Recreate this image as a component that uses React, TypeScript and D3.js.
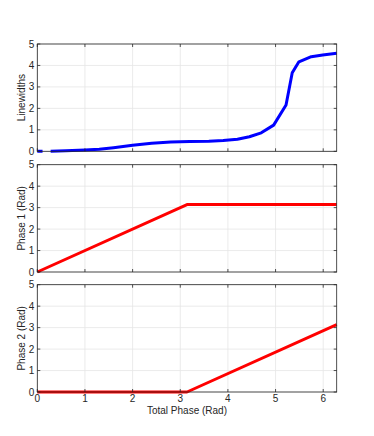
import React from "react";
import * as d3 from "d3";

const totalPhase = [0, Math.PI, 2 * Math.PI];
const phase1 = [0, Math.PI, Math.PI];
const phase2 = [0, 0, Math.PI];

const lwX = [0, 0.11, NaN, 0.28, 0.6, 1.0, 1.3, 1.6, 2.0, 2.4, 2.8, 3.2, 3.6, 3.9, 4.2, 4.45, 4.7, 4.96, 5.22, 5.35, 5.49, 5.75, 5.99, 2 * Math.PI];
const lwY = [0, 0, NaN, 0, 0.02, 0.06, 0.1, 0.17, 0.28, 0.37, 0.43, 0.46, 0.47, 0.5, 0.56, 0.68, 0.86, 1.22, 2.16, 3.66, 4.17, 4.41, 4.49, 4.57];

const xTicks = [0, 1, 2, 3, 4, 5, 6];
const yTicks = [0, 1, 2, 3, 4, 5];

const panels = [
  { label: "Linewidths", xs: lwX, ys: lwY, color: "#0000ff", top: 44, bottom: 151.3 },
  { label: "Phase 1 (Rad)", xs: totalPhase, ys: phase1, color: "#ff0000", top: 164.7, bottom: 272 },
  { label: "Phase 2 (Rad)", xs: totalPhase, ys: phase2, color: "#ff0000", top: 284.7, bottom: 392 },
];

const LEFT = 37.3;
const RIGHT = 336.7;
const FONT = "'Liberation Sans', Arial, sans-serif";
const AX = "#262626";

export default function App() {
  const x = d3.scaleLinear().domain([0, 2 * Math.PI]).range([LEFT, RIGHT]);
  return (
    <svg width={374} height={436} style={{ position: "absolute", left: 0, top: 0, background: "#fff" }}>
      <rect width={374} height={436} fill="#fff" />
      {panels.map((p, i) => {
        const y = d3.scaleLinear().domain([0, 5]).range([p.bottom, p.top]);
        const pts = p.xs.map((v, k) => [v, p.ys[k]] as [number, number]);
        const line = d3
          .line<[number, number]>()
          .defined((d) => !isNaN(d[0]) && !isNaN(d[1]))
          .x((d) => x(d[0]))
          .y((d) => y(d[1]));
        const isLast = i === panels.length - 1;
        return (
          <g key={i}>
            {xTicks.map((t) => (
              <line key={"gx" + t} x1={x(t)} x2={x(t)} y1={p.top} y2={p.bottom} stroke="#e6e6e6" strokeWidth={0.8} />
            ))}
            {yTicks.map((t) => (
              <line key={"gy" + t} x1={LEFT} x2={RIGHT} y1={y(t)} y2={y(t)} stroke="#e6e6e6" strokeWidth={0.8} />
            ))}
            <path d={line(pts) || ""} fill="none" stroke={p.color} strokeWidth={3} strokeLinejoin="round" />
            <rect x={LEFT} y={p.top} width={RIGHT - LEFT} height={p.bottom - p.top} fill="none" stroke={AX} strokeWidth={0.8} />
            {xTicks.map((t) => (
              <g key={"tx" + t}>
                <line x1={x(t)} x2={x(t)} y1={p.bottom} y2={p.bottom - 3} stroke={AX} strokeWidth={0.8} />
                <line x1={x(t)} x2={x(t)} y1={p.top} y2={p.top + 3} stroke={AX} strokeWidth={0.8} />
                {isLast && (
                  <text x={x(t)} y={p.bottom + 10} textAnchor="middle" fontFamily={FONT} fontSize={10} fill={AX}>
                    {t}
                  </text>
                )}
              </g>
            ))}
            {yTicks.map((t) => (
              <g key={"ty" + t}>
                <line x1={LEFT} x2={LEFT + 3} y1={y(t)} y2={y(t)} stroke={AX} strokeWidth={0.8} />
                <line x1={RIGHT} x2={RIGHT - 3} y1={y(t)} y2={y(t)} stroke={AX} strokeWidth={0.8} />
                <text x={LEFT - 3} y={y(t) + 3.5} textAnchor="end" fontFamily={FONT} fontSize={10} fill={AX}>
                  {t}
                </text>
              </g>
            ))}
            <text
              transform={`translate(25,${(p.top + p.bottom) / 2}) rotate(-90)`}
              textAnchor="middle"
              fontFamily={FONT}
              fontSize={10}
              fill={AX}
            >
              {p.label}
            </text>
          </g>
        );
      })}
      <text x={(LEFT + RIGHT) / 2} y={414} textAnchor="middle" fontFamily={FONT} fontSize={10} fill={AX}>
        Total Phase (Rad)
      </text>
    </svg>
  );
}
